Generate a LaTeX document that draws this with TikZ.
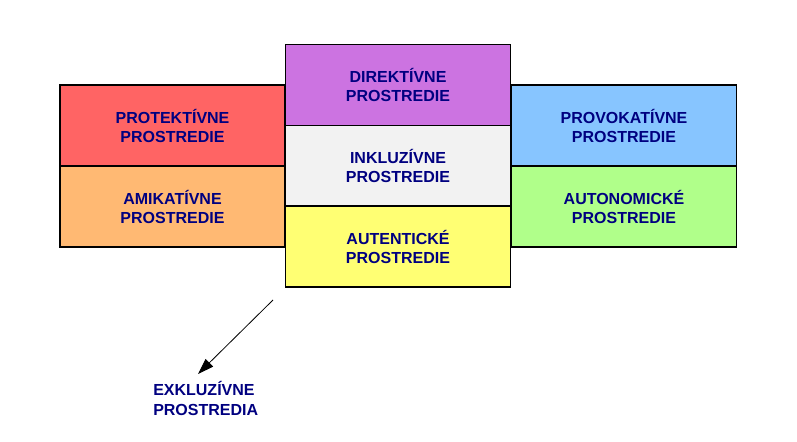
\documentclass[tikz,border=0pt]{standalone}
\usepackage{fontspec}
\setmainfont{Liberation Sans}
\usetikzlibrary{arrows.meta}
\definecolor{navy}{HTML}{000080}
\definecolor{cred}{HTML}{FF6464}
\definecolor{corange}{HTML}{FFB973}
\definecolor{cpurple}{HTML}{CC73E1}
\definecolor{cgray}{HTML}{F2F2F2}
\definecolor{cyellow}{HTML}{FFFF73}
\definecolor{cblue}{HTML}{87C5FF}
\definecolor{cgreen}{HTML}{B0FF8A}
\begin{document}
\begin{tikzpicture}[x=0.75pt,y=-0.75pt,
  envbox/.style={draw=black,line width=0.8pt,minimum width=168.75pt,minimum height=60.75pt,
    inner sep=0pt,align=center,text=navy,font=\fontsize{12}{14.25}\selectfont\bfseries},
  envtext/.style={text=navy,align=left,inner sep=0pt,font=\fontsize{12}{15}\selectfont\bfseries}]
\useasboundingbox (0,0) rectangle (797,442);
\node[envbox,fill=cred] (prot) at (172.5,125.5) {PROTEKTÍVNE\\PROSTREDIE};
\node[envbox,fill=corange] (amik) at (172.5,206.5) {AMIKATÍVNE\\PROSTREDIE};
\node[envbox,fill=cpurple] (dir) at (398,85) {DIREKTÍVNE\\PROSTREDIE};
\node[envbox,fill=cgray] (inkl) at (398,166) {INKLUZÍVNE\\PROSTREDIE};
\node[envbox,fill=cyellow] (aut) at (398,246.5) {AUTENTICKÉ\\PROSTREDIE};
\node[envbox,fill=cblue] (prov) at (624,125.5) {PROVOKATÍVNE\\PROSTREDIE};
\node[envbox,fill=cgreen] (auton) at (624,206.5) {AUTONOMICKÉ\\PROSTREDIE};
\node[envtext,anchor=west] (exkl) at (153,398) {EXKLUZÍVNE\\PROSTREDIA};
\coordinate (from) at (273,300);
\coordinate (to) at (198,374);
\draw[-{Triangle[length=12pt,width=8pt]},line width=0.6pt] (from) -- (to);
\end{tikzpicture}
\end{document}
